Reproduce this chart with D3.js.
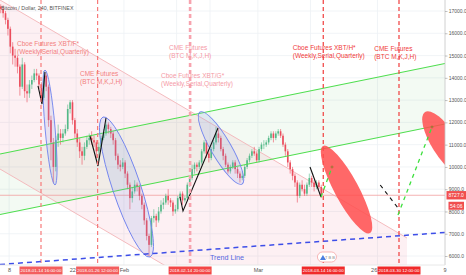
<!DOCTYPE html>
<html>
<head>
<meta charset="utf-8">
<script src="https://cdn.jsdelivr.net/npm/d3@7"></script>
<style>
  body { margin: 0; background: #fff; }
  svg { display: block; font-family: "Liberation Sans", Arial, sans-serif; }
</style>
</head>
<body>
<div id="chart"></div>
<script>
const W = 466, H = 275;
const plotR = 445, plotB = 265;
const parseT = d3.utcParse("%Y-%m-%d %H:%M");

// BTC/USD 12h candles starting 2018-01-06 00:00, open = previous close
const firstCandle = "2018-01-06 00:00";
const firstOpen = 17200;
const closes = [
  17100,16900, 16600,16200, 15400,15000, 14900,14500, 13600,14600,
  13400,13300, 13700,13900, 14200,14100, 13700,13100, 14100,13600,
  12100,11100, 10000,11200, 11500,11300, 11500,11700, 12600,12900,
  12100,11500, 11100,10700, 10500,10900, 11200,11300, 11200,11100,
  10700,10900, 11300,11500, 11900,11700, 11500,11200, 10500,10100,
  10000,10200,
  9700,9200, 8600,8900, 9200,9100, 8700,8300, 7600,6900,
  6500,7700, 7800,7600, 8000,8300, 8400,8700, 8500,8400,
  8000,8100, 8600,8800, 8500,8600, 9200,9500, 9900,10100,
  10000,10200, 10700,11100, 10600,10400, 10800,11100, 11500,11300,
  10800,10500, 10100,9800, 10000,10200, 9900,9700, 9500,9600,
  10000,10300, 10500,10700, 10600,10300,
  10800,11000, 11000,11100, 11300,11500, 11300,11500, 11600,11400,
  11000,10700, 10200,9900, 9600,9300, 8700,9200, 9000,8800,
  9200,9500, 9300,9100, 9300,9100, 8727
];
const highs = [
  17300,17250, 17000,16700, 16300,15600, 15300,15000, 14600,14900,
  14700,13700, 13900,14100, 14400,14400, 14200,13800, 14300,14200,
  13700,12300, 11300,11400, 11900,11700, 11700,11900, 12800,13000,
  13000,12200, 11700,11300, 10900,11100, 11400,11500, 11600,11400,
  11200,11100, 11400,11700, 12100,12000, 11800,11600, 11300,10600,
  10300,10400,
  10300,9800, 9300,9100, 9400,9300, 9200,8800, 8400,7700,
  7000,7800, 8100,7900, 8200,8500, 8600,8800, 9000,8600,
  8500,8300, 8700,8900, 8900,8700, 9300,9600, 10100,10200,
  10200,10300, 10800,11200, 11200,10700, 10900,11200, 11800,11700,
  11400,10900, 10600,10200, 10100,10300, 10300,10000, 9800,9800,
  10100,10400, 10600,10800, 10900,10700,
  10900,11100, 11200,11200, 11400,11600, 11600,11600, 11700,11700,
  11500,11100, 10800,10300, 10000,9700, 9400,9300, 9400,9200,
  9300,9700, 9600,9400, 9400,9400, 9200
];
const lows = [
  16900,16700, 16400,15900, 15100,14600, 14500,14200, 13200,13500,
  13100,12900, 13100,13500, 13800,13900, 13500,12900, 13000,13400,
  11800,10300, 9300,9800, 10900,11000, 11100,11400, 11600,12400,
  11900,11300, 10900,10400, 10100,10300, 10800,11000, 11000,10900,
  10400,10300, 10800,11200, 11400,11500, 11300,11000, 10300,9900,
  9800,9900,
  9500,9000, 8100,8400, 8800,8900, 8500,8100, 7400,6700,
  6000,6400, 7500,7300, 7500,7900, 8100,8300, 8300,8200,
  7800,7900, 8000,8500, 8300,8400, 8500,9100, 9400,9700,
  9800,9900, 10100,10600, 10400,10200, 10300,10700, 11000,11100,
  10700,10300, 10000,9700, 9700,9900, 9700,9500, 9300,9400,
  9500,9900, 10200,10400, 10500,10200,
  10200,10700, 10800,10900, 11000,11200, 11100,11200, 11400,11300,
  10900,10500, 10000,9700, 9400,9100, 8400,8600, 8900,8700,
  8700,9100, 9100,8900, 9000,9000, 8600
];
const lastPrice = "8727.0", countdown = "54:06";

// axis ticks
const priceTicks = [6000,7000,8000,9000,10000,11000,12000,13000,14000,15000,16000,17000];
const dateTicks = ["2018-01-08 00:00","2018-01-22 00:00","2018-02-01 00:00","2018-03-01 00:00","2018-03-26 00:00","2018-04-09 00:00"];
const dateTickLabels = ["8","22","Feb","Mar","26","9"];
const gridDates = ["2018-01-08 00:00","2018-01-22 00:00","2018-02-01 00:00","2018-02-12 00:00","2018-02-19 00:00",
                   "2018-03-01 00:00","2018-03-12 00:00","2018-03-26 00:00"];

// futures expiry markers
const expiryDates = ["2018-01-14 16:00","2018-01-26 12:00","2018-02-14 20:00","2018-03-14 16:00","2018-03-30 12:00"];
const expiryLabels = ["2018-01-14 16:00:00","2018-01-26 12:00:00","2018-02-14 20:00:00","2018-03-14 16:00:00","2018-03-30 12:00:00"];
const expiryTone = ["old","old","mid","new","new"];

// note texts: [date, price, line1, line2, tone]
const notes = [
  ["2018-01-09 15:30", 15430, "Cboe Futures XBT/F*", "(Weekly,Serial,Quarterly)", "old"],
  ["2018-01-22 19:40", 14081, "CME Futures", "(BTC M,K,J,H)", "old"],
  ["2018-02-10 10:10", 15249, "CME Futures", "(BTC M,K,J,H)", "mid"],
  ["2018-02-08 18:00", 13992, "Cboe Futures XBT/G*", "(Weekly,Serial,Quarterly)", "mid"],
  ["2018-03-08 07:10", 15249, "Cboe Futures XBT/H*", "(Weekly,Serial,Quarterly)", "new"],
  ["2018-03-25 07:35", 15204, "CME Futures", "(BTC M,K,J,H)", "new"]
];

// drawings
const pinkChannel = { from: ["2018-01-06 02:18", 17494], to: ["2018-04-01 04:00", 6808], offset: 7590 };
const greenChannel = { from: ["2018-01-06 02:18", 10579], to: ["2018-04-09 02:48", 14643], offset: 2716 };
const trendLine = [["2018-01-06 02:18", 5618], ["2018-04-09 02:48", 7055]];
const trendText = ["2018-02-18 23:30", 5820, "Trend Line"];
const blueEllipses = [
  [["2018-01-15 12:00", 14351], ["2018-01-17 14:20", 9187]],
  [["2018-01-27 15:00", 12241], ["2018-02-06 10:45", 5955]],
  [["2018-02-16 21:45", 12465], ["2018-02-25 16:30", 9232]]
];
const redEllipses = [
  [["2018-03-14 14:50", 10939], ["2018-03-24 10:30", 7032]],
  [["2018-04-04 22:30", 12465], ["2018-04-13 07:00", 9636]]
];
const blackPaths = [
  [["2018-01-14 01:00", 13633], ["2018-01-14 21:00", 12824], ["2018-01-15 12:00", 14261]],
  [["2018-01-24 21:45", 11388], ["2018-01-26 13:50", 10041], ["2018-01-28 06:05", 12196]],
  [["2018-02-12 17:25", 8649], ["2018-02-13 08:25", 8020], ["2018-02-20 16:00", 11747]],
  [["2018-03-11 21:30", 9996], ["2018-03-14 04:40", 8649]]
];
const blackDashed = [["2018-03-26 13:50", 9187], ["2018-03-30 07:00", 8155]];
const greenDashed = [
  [["2018-03-14 04:40", 8649], ["2018-03-16 12:00", 9996]],
  [["2018-03-30 07:00", 7840], ["2018-04-06 09:30", 11792]]
];
const tvBadge = ["2018-03-15 10:30", 5955];

// scales
const x = d3.scaleUtc()
  .domain([parseT("2018-01-14 16:00"), parseT("2018-03-30 12:00")])
  .range([41, 399]);
const y = d3.scaleLinear().domain([6000, 17000]).range([256, 11]);
const px = p => [x(parseT(p[0])), y(p[1])];

const toneLine = { old: "#f77a7a", mid: "#f7a3ae", new: "#f03c3c" };
const toneText = { old: "#f28080", mid: "#f59aa6", new: "#f03a3a" };
const toneBox = { old: "#f35e5e", mid: "#f34646", new: "#f02a2a" };

const svg = d3.select("#chart").append("svg").attr("width", W).attr("height", H);
svg.append("rect").attr("width", W).attr("height", H).attr("fill", "#fff");
svg.append("defs").append("clipPath").attr("id", "plot")
  .append("rect").attr("width", plotR).attr("height", plotB);
const plot = svg.append("g").attr("clip-path", "url(#plot)");

// grid
plot.selectAll(".hg").data(priceTicks).join("line")
  .attr("x1", 0).attr("x2", plotR).attr("y1", d => y(d)).attr("y2", d => y(d))
  .attr("stroke", "#edf1f5").attr("stroke-width", 0.8);
plot.selectAll(".vg").data(gridDates).join("line")
  .attr("x1", d => x(parseT(d))).attr("x2", d => x(parseT(d))).attr("y1", 0).attr("y2", plotB)
  .attr("stroke", "#edf1f5").attr("stroke-width", 0.8);

// channels
function channelPts(c) {
  const a = px(c.from), b = px(c.to);
  const a2 = px([c.from[0], c.from[1] - c.offset]), b2 = px([c.to[0], c.to[1] - c.offset]);
  return [a, b, b2, a2];
}
const pinkPts = channelPts(pinkChannel);
plot.append("polygon").attr("points", pinkPts.join(" ")).attr("fill", "rgba(228,90,120,0.09)");
const greenPts = channelPts(greenChannel);
plot.append("polygon").attr("points", greenPts.join(" ")).attr("fill", "rgba(80,180,80,0.07)");

const line = d3.line();
plot.append("path").attr("d", line([pinkPts[0], pinkPts[1]])).attr("stroke", "#f3b4b8").attr("stroke-width", 0.9).attr("fill", "none");
plot.append("path").attr("d", line([pinkPts[3], pinkPts[2]])).attr("stroke", "#f3b4b8").attr("stroke-width", 0.9).attr("fill", "none");

// last price line
plot.append("line").attr("x1", 0).attr("x2", plotR)
  .attr("y1", y(+lastPrice)).attr("y2", y(+lastPrice))
  .attr("stroke", "#f2a0a0").attr("stroke-width", 0.8);

// candles
const t0 = parseT(firstCandle);
const half = 6 * 3600 * 1000;
const candles = closes.map((c, i) => {
  const o = i === 0 ? firstOpen : closes[i - 1];
  return { t: new Date(+t0 + i * 2 * half + half), o, c, h: Math.max(highs[i], o, c), l: Math.min(lows[i], o, c) };
});
const bw = (x(new Date(+t0 + 2 * half)) - x(t0)) * 0.68;
const cg = plot.append("g");
cg.selectAll("line").data(candles).join("line")
  .attr("x1", d => x(d.t)).attr("x2", d => x(d.t))
  .attr("y1", d => y(d.h)).attr("y2", d => y(d.l))
  .attr("stroke", d => d.c >= d.o ? "#53b987" : "#eb4d5c").attr("stroke-width", 0.6);
cg.selectAll("rect").data(candles).join("rect")
  .attr("x", d => x(d.t) - bw / 2).attr("width", bw)
  .attr("y", d => y(Math.max(d.o, d.c)))
  .attr("height", d => Math.max(0.6, Math.abs(y(d.o) - y(d.c))))
  .attr("fill", d => d.c >= d.o ? "#53b987" : "#eb4d5c");

// green channel lines
plot.append("path").attr("d", line([greenPts[0], greenPts[1]])).attr("stroke", "#4ede4e").attr("stroke-width", 1.2).attr("fill", "none");
plot.append("path").attr("d", line([greenPts[3], greenPts[2]])).attr("stroke", "#4ede4e").attr("stroke-width", 1.2).attr("fill", "none");

// ellipses
function ellipse(g, e, ry) {
  const [x1, y1] = px(e[0]), [x2, y2] = px(e[1]);
  const cx = (x1 + x2) / 2, cy = (y1 + y2) / 2;
  const rx = Math.hypot(x2 - x1, y2 - y1) / 2;
  const ang = Math.atan2(y2 - y1, x2 - x1) * 180 / Math.PI;
  return g.append("ellipse").attr("cx", cx).attr("cy", cy).attr("rx", rx).attr("ry", ry)
    .attr("transform", `rotate(${ang},${cx},${cy})`);
}
const blueWidth = [5, 14, 10];
blueEllipses.forEach((e, i) => ellipse(plot, e, blueWidth[i])
  .attr("fill", "rgba(120,150,230,0.16)").attr("stroke", "#7486ee").attr("stroke-width", 0.9));

// black patterns
blackPaths.forEach(p => plot.append("path").attr("d", line(p.map(px)))
  .attr("stroke", "#111").attr("stroke-width", 1.1).attr("fill", "none"));

// vertical expiry lines
expiryDates.forEach((d, i) => {
  const xx = x(parseT(d));
  plot.append("line").attr("x1", xx).attr("x2", xx).attr("y1", 0).attr("y2", plotB)
    .attr("stroke", toneLine[expiryTone[i]])
    .attr("stroke-width", expiryTone[i] === "mid" ? 2.6 : 1.2)
    .attr("stroke-dasharray", "4,3");
});

// red ellipses
const redWidth = [12, 13];
redEllipses.forEach((e, i) => ellipse(plot, e, redWidth[i])
  .attr("fill", "#ff4d4d").attr("fill-opacity", 0.85));

// projections
plot.append("path").attr("d", line(blackDashed.map(px)))
  .attr("stroke", "#111").attr("stroke-width", 1.1).attr("stroke-dasharray", "4,4").attr("fill", "none");
greenDashed.forEach(p => {
  plot.append("path").attr("d", line(p.map(px)))
    .attr("stroke", "#3ee03e").attr("stroke-width", 1.3).attr("stroke-dasharray", "4,4").attr("fill", "none");
  const [ex, ey] = px(p[1]);
  plot.append("path").attr("d", `M${ex - 1.5},${ey}H${ex + 1.5}M${ex},${ey - 1.5}V${ey + 1.5}`)
    .attr("stroke", "#8a7a2a").attr("stroke-width", 0.8);
});

// trend line
plot.append("path").attr("d", line(trendLine.map(px)))
  .attr("stroke", "#3d4ee8").attr("stroke-width", 1.5).attr("stroke-dasharray", "5,4").attr("fill", "none");
plot.append("text").attr("x", x(parseT(trendText[0]))).attr("y", y(trendText[1]))
  .attr("font-size", 7.2).attr("fill", "#5566e0").text(trendText[2]);

// notes
notes.forEach(n => {
  const t = plot.append("text").attr("x", x(parseT(n[0]))).attr("y", y(n[1]))
    .attr("font-size", 6.5).attr("fill", toneText[n[4]]);
  t.append("tspan").text(n[2]);
  t.append("tspan").attr("x", x(parseT(n[0]))).attr("dy", 8).text(n[3]);
});

// title
svg.append("text").attr("x", 1).attr("y", 9.5).attr("font-size", 5.3).attr("fill", "#555")
  .text("Bitcoin / Dollar, 240, BITFINEX");

// tv badge
const [bx, by] = px(tvBadge);
const badge = plot.append("g").attr("transform", `translate(${bx},${by})`);
badge.append("rect").attr("x", -9.5).attr("y", -5).attr("width", 19).attr("height", 10).attr("rx", 5)
  .attr("fill", "#fff").attr("stroke", "#f39a9a").attr("stroke-width", 0.7);
badge.append("path").attr("d", "M-7,3L-4,-2L-1,3Z").attr("fill", "#4a7fe0");
badge.append("text").attr("x", 3).attr("y", 1.5).attr("text-anchor", "middle")
  .attr("font-size", 4).attr("fill", "#888").text("T B B");

// axes
svg.append("line").attr("x1", plotR).attr("x2", plotR).attr("y1", 0).attr("y2", plotB)
  .attr("stroke", "#c4c4c4").attr("stroke-width", 0.8);
svg.append("line").attr("x1", 0).attr("x2", plotR).attr("y1", plotB).attr("y2", plotB)
  .attr("stroke", "#e2e2e2").attr("stroke-width", 0.8);

const yAxis = svg.append("g").attr("transform", `translate(${plotR},0)`)
  .call(d3.axisRight(y).tickValues(priceTicks).tickSize(2.5).tickPadding(1.2).tickFormat(d => d.toFixed(1)));
yAxis.select(".domain").remove();
yAxis.selectAll("line").attr("stroke", "#999").attr("stroke-width", 0.6);
yAxis.selectAll("text").attr("font-size", 5).attr("fill", "#555").attr("font-family", "Liberation Sans, Arial, sans-serif");

const xAxis = svg.append("g").attr("transform", `translate(0,${plotB})`)
  .call(d3.axisBottom(x).tickValues(dateTicks.map(parseT)).tickSize(0).tickPadding(3.5)
    .tickFormat((d, i) => dateTickLabels[i]));
xAxis.select(".domain").remove();
xAxis.selectAll("text").attr("font-size", 5.5).attr("fill", "#555").attr("font-family", "Liberation Sans, Arial, sans-serif");

// expiry date boxes
const boxes = [];
expiryDates.forEach((d, i) => {
  const xx = x(parseT(d));
  boxes.push([xx - 21.5, xx + 21.5]);
  svg.append("rect").attr("x", xx - 21.5).attr("y", 266.5).attr("width", 43).attr("height", 8)
    .attr("fill", toneBox[expiryTone[i]]);
  svg.append("text").attr("x", xx).attr("y", 272.2).attr("text-anchor", "middle")
    .attr("font-size", 4.4).attr("fill", "#fff").text(expiryLabels[i]);
});

// tick labels that would run under a date box are pushed to its left edge
xAxis.selectAll(".tick").each(function (d) {
  const xx = x(d);
  const b = boxes.find(r => xx > r[0] - 4 && xx < r[1]);
  if (b) d3.select(this).select("text").attr("text-anchor", "end").attr("dx", b[0] - xx - 0.8);
});

// last price boxes
const ly = y(+lastPrice);
svg.append("rect").attr("x", 446.5).attr("y", ly - 4.2).attr("width", 19.5).attr("height", 8.4).attr("fill", "#f04e4e");
svg.append("text").attr("x", 456.2).attr("y", ly + 1.8).attr("text-anchor", "middle")
  .attr("font-size", 5).attr("fill", "#fff").text(lastPrice);
svg.append("rect").attr("x", 448.5).attr("y", ly + 6.5).attr("width", 15.5).attr("height", 8).attr("fill", "#f04e4e");
svg.append("text").attr("x", 456.2).attr("y", ly + 12.3).attr("text-anchor", "middle")
  .attr("font-size", 5).attr("fill", "#fff").text(countdown);
</script>
</body>
</html>
